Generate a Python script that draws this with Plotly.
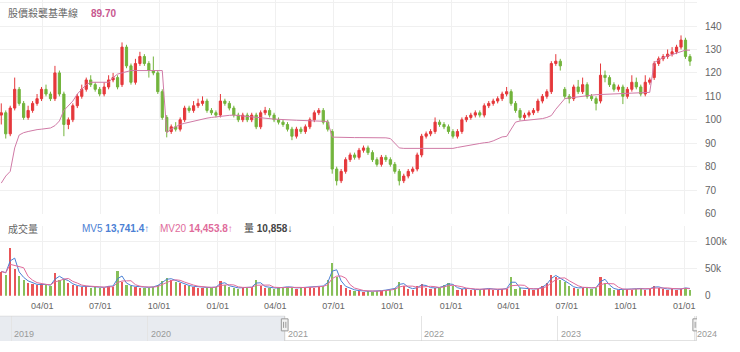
import plotly.graph_objects as go
import pandas as pd

W, H = 740, 352

# ---------------- data (weekly) ----------------
week_start = "2021-01-27"
n_weeks = 155

close_ = [103, 94, 105, 113, 107, 101, 104, 107, 109, 113,
          111, 109, 120, 111, 98, 100, 106, 110, 113, 117,
          115, 113, 111, 114, 117, 118, 114, 131, 123, 116,
          124, 127, 124, 121, 120, 112, 101, 95, 97, 96,
          100, 105, 104, 106, 107, 108, 104, 103, 102, 108,
          107, 105, 102, 100, 102, 100, 102, 97, 103, 104,
          102, 100, 99, 98, 96, 93, 96, 95, 97, 100,
          103, 104, 99, 96, 79, 74, 78, 83, 85, 84,
          87, 88, 86, 83, 81, 84, 83, 81, 78, 74,
          76, 78, 79, 85, 93, 94, 95, 99, 98, 97,
          95, 93, 95, 100, 101, 102, 103, 102, 106, 107,
          108, 109, 111, 112, 107, 104, 101, 102, 103, 104,
          108, 110, 112, 124, 125, 123, 110, 109, 114, 112,
          115, 110, 109, 107, 119, 118, 115, 113, 114, 110,
          113, 116, 114, 111, 116, 117, 124, 126, 127, 128,
          129, 131, 134, 127, 125]

open_ = [102, 103, 94, 105, 113, 107, 101, 104, 107, 109,
         113, 111, 109, 120, 111, 98, 100, 106, 110, 113,
         117, 115, 113, 111, 114, 117, 118, 115, 131, 123,
         116, 124, 127, 124, 121, 120, 112, 101, 95, 97,
         96, 100, 105, 104, 106, 107, 108, 104, 103, 102,
         108, 107, 105, 102, 100, 102, 100, 102, 97, 103,
         104, 102, 100, 99, 98, 96, 93, 96, 95, 97,
         100, 103, 104, 99, 95, 79, 74, 78, 83, 85,
         84, 87, 88, 86, 83, 81, 84, 83, 81, 78,
         74, 76, 78, 79, 85, 93, 94, 95, 99, 98,
         97, 95, 93, 95, 100, 101, 102, 103, 102, 106,
         107, 108, 109, 111, 112, 107, 104, 101, 102, 103,
         104, 108, 110, 112, 124, 125, 113, 110, 109, 114,
         112, 115, 110, 109, 108, 119, 118, 115, 113, 114,
         110, 113, 116, 114, 111, 116, 118, 124, 126, 127,
         128, 129, 131, 134, 127]

high_ = [107, 104, 106, 118, 114, 108, 106, 108, 111, 114,
         115, 112, 123, 121, 112, 101, 107, 111, 115, 118,
         119, 116, 114, 116, 119, 120, 119, 133, 132, 124,
         126, 129, 128, 125, 127, 121, 113, 102, 98, 99,
         101, 106, 106, 108, 109, 110, 109, 105, 104, 111,
         109, 108, 106, 103, 103, 103, 103, 103, 104, 105.5,
         105, 103, 101, 100, 99, 97, 97, 97, 98, 101,
         104, 105, 105, 100, 96, 80, 79, 84, 86, 86,
         88, 89, 89, 87, 84, 85, 85, 84, 82, 79,
         77, 79, 80, 86, 94, 95, 96, 101, 100, 99,
         98, 96, 96, 101, 102, 103, 104, 104, 107, 108,
         109, 110, 112, 114, 113, 108, 105, 103, 104, 105,
         109, 111, 113, 125, 128, 126, 114, 111, 115, 117,
         118, 116, 111, 110, 124, 121, 119, 116, 115, 115,
         114, 119, 118, 115, 119, 118, 125, 127, 128, 130,
         131, 132, 136, 135, 128]

low_ = [98, 92, 93, 104, 106, 100, 100, 103, 106, 108,
        110, 108, 108, 110, 93, 96, 99, 105, 109, 112,
        114, 112, 110, 110, 113, 116, 113, 114, 122, 115,
        115, 123, 123, 118, 119, 111, 100, 92.5, 94, 95,
        95, 99, 103, 103, 105, 106, 103, 102, 101, 101,
        106, 104, 101, 99, 99, 99, 99, 96, 96, 102,
        101, 99, 98, 97, 95, 91.3, 92, 94, 94, 96,
        99, 102, 98, 95, 77, 72, 73, 77, 82, 83,
        83, 86, 85, 82, 80, 80, 82, 80, 77, 72,
        73, 75, 77, 78, 84, 92, 93, 94, 97, 96,
        94, 92, 92, 94, 99, 100, 101, 101, 101, 105,
        106, 107, 108, 110, 106, 103, 99.7, 100, 101, 102,
        103, 107, 109, 111, 123, 121, 109, 107, 108, 111,
        111, 109, 108, 104, 107, 116, 114, 112, 112, 106.7,
        109, 112, 113, 110, 110, 115, 117, 123, 125, 126,
        127, 128, 130, 126, 123]

baseline = [73, 76, 78, 88, 93.5, 94.5, 95, 95.5, 95.8, 96,
            96.3, 96.5, 97.5, 99.5, 104, 106, 108, 111, 113, 115,
            116, 116, 116, 116, 116, 118, 119.5, 120, 120.5, 121,
            121, 121, 121, 121, 121, 121, 121, 94.5, 96, 97,
            98, 98.5, 99, 99.5, 100, 100.3, 100.7, 101, 101.3, 101.5,
            101.7, 101.9, 102, 101.8, 101.5, 101.3, 101, 100.8, 100.6, 100.5,
            100.4, 100.3, 100.2, 100.2, 100, 99.9, 99.8, 99.7, 99.6, 99.5,
            99.4, 99.3, 99.3, 99.3, 92.6, 92.5, 92.5, 92.5, 92.5, 92.4,
            92.4, 92.4, 92.4, 92.3, 92.3, 92.3, 92.3, 92, 90, 88,
            87.8, 87.8, 87.8, 87.8, 87.8, 87.8, 87.8, 87.8, 87.8, 87.8,
            87.8, 87.8, 88.2, 88.6, 89, 89.3, 89.6, 89.9, 90.2, 90.4,
            91, 92, 92.7, 92.9, 96, 99, 99.5, 99.7, 99.8, 99.9,
            100, 100.5, 101, 101.8, 104.5, 107, 109, 109.3, 109.6, 109.9,
            110.1, 110.3, 110.5, 110.7, 110.8, 110.9, 111, 111.1, 111.2, 111.3,
            111.4, 111.5, 111.6, 111.7, 111.7, 111.7, 124.4, 125.5, 126.5, 127.2,
            127.8, 128.5, 129, 129.7, 129.7]

volume_k = [45, 40, 89, 50, 38, 30, 25, 22, 20, 22,
            20, 19, 42, 30, 32, 24, 20, 18, 17, 18,
            16, 17, 15, 16, 19, 17, 46, 27, 20, 18,
            17, 16, 15, 16, 17, 21, 28, 33, 30, 27,
            24, 20, 18, 17, 16, 15, 16, 15, 17, 28,
            20, 17, 15, 14, 16, 15, 17, 30, 18, 16,
            15, 14, 15, 16, 17, 15, 14, 16, 15, 17,
            16, 17, 19, 30, 61, 35, 20, 15, 12, 10,
            9, 8, 9, 8, 9, 10, 11, 12, 15, 27,
            18, 14, 12, 18, 22, 16, 14, 15, 16, 20,
            24, 18, 12, 13, 14, 12, 11, 12, 14, 13,
            12, 11, 13, 14, 36, 14, 15, 12, 13, 12,
            14, 18, 25, 39, 36, 30, 27, 18, 15, 14,
            16, 15, 14, 16, 36, 25, 15, 12, 11, 12,
            13, 12, 14, 13, 12, 14, 18, 15, 13, 12,
            14, 12, 13, 16, 11]

x_tick_dates = ["2021-04-01", "2021-07-01", "2021-10-01", "2022-01-01",
                "2022-04-01", "2022-07-01", "2022-10-01", "2023-01-01",
                "2023-04-01", "2023-07-01", "2023-10-01", "2024-01-01"]
x_tick_text = ["04/01", "07/01", "10/01", "01/01", "04/01", "07/01",
               "10/01", "01/01", "04/01", "07/01", "10/01", "01/01"]
price_ticks = [60, 70, 80, 90, 100, 110, 120, 130, 140, 150]
vol_ticks = [0, 50000, 100000]
vol_tick_text = ["0", "50k", "100k"]
nav_years = ["2019", "2020", "2021", "2022", "2023", "2024"]
nav_year_dates = ["2019-01-01", "2020-01-01", "2021-01-01", "2022-01-01",
                  "2023-01-01", "2024-01-01"]

title_main = "股價殺襲基準線"
title_main_value = "89.70"
title_vol = "成交量"
mv5_label, mv5_value = "MV5", "13,741.4"
mv20_label, mv20_value = "MV20", "14,453.8"
vol_label, vol_value = "量", "10,858"

view_range = ["2021-01-25", "2024-01-21"]
nav_range = ["2018-12-02", "2024-01-08"]
sel_start, sel_end = "2021-01-01", "2024-01-06"

# ---------------- styling ----------------
RED = "#e5383b"
GREEN = "#72b43c"
PINK = "#d07aa6"
BLUE = "#4b80d4"
MV20C = "#e06b9b"
GRID = "#f0f0f0"
TXT = "#666666"
FONT = "Liberation Sans, Noto Sans CJK TC, sans-serif"

dates = pd.date_range(week_start, periods=n_weeks, freq="7D")
volume = [v * 1000 for v in volume_k]
vol_s = pd.Series(volume)
mv5 = vol_s.rolling(2, min_periods=1).mean()
mv20 = vol_s.rolling(4, min_periods=1).mean()
bar_colors = [RED if c >= o else GREEN for o, c in zip(open_, close_)]

KY = 1.02  # vertical calibration


def py(px):  # pixel from top -> paper
    return 1 - px * KY / H


R = 697 / W

fig = go.Figure()
fig.add_trace(go.Candlestick(
    x=dates, open=open_, high=high_, low=low_, close=close_,
    xaxis="x", yaxis="y", whiskerwidth=0,
    increasing=dict(line=dict(color=RED, width=1), fillcolor=RED),
    decreasing=dict(line=dict(color=GREEN, width=1), fillcolor=GREEN),
    showlegend=False, hoverinfo="skip"))
fig.add_trace(go.Scatter(x=dates, y=baseline, mode="lines",
                         line=dict(color=PINK, width=1), xaxis="x", yaxis="y",
                         showlegend=False, hoverinfo="skip"))
fig.add_trace(go.Bar(x=dates, y=volume, marker=dict(color=bar_colors, line=dict(width=0)),
                     opacity=0.85, width=3.5 * 86400000, xaxis="x2", yaxis="y2",
                     showlegend=False, hoverinfo="skip"))
fig.add_trace(go.Scatter(x=dates, y=mv5, mode="lines", line=dict(color=BLUE, width=1),
                         xaxis="x2", yaxis="y2", showlegend=False, hoverinfo="skip"))
fig.add_trace(go.Scatter(x=dates, y=mv20, mode="lines", line=dict(color=MV20C, width=1),
                         xaxis="x2", yaxis="y2", showlegend=False, hoverinfo="skip"))
fig.add_trace(go.Scatter(x=nav_year_dates, y=[0.5] * len(nav_year_dates), mode="none",
                         xaxis="x3", yaxis="y3", showlegend=False, hoverinfo="skip"))

axis_common = dict(showline=False, zeroline=False, ticks="")
fig.update_layout(
    width=W, height=H, margin=dict(l=0, r=0, t=0, b=0),
    paper_bgcolor="white", plot_bgcolor="white",
    font=dict(family=FONT, size=10, color=TXT),
    bargap=0,
    xaxis=dict(domain=[0, R], type="date", range=view_range, anchor="y",
               rangeslider=dict(visible=False), showticklabels=False,
               tickvals=x_tick_dates, showgrid=True, gridcolor=GRID, **axis_common),
    xaxis2=dict(domain=[0, R], type="date", range=view_range, anchor="y2", matches="x",
                tickvals=x_tick_dates, ticktext=x_tick_text, ticklabelstandoff=3,
                tickfont=dict(size=9, color=TXT), showgrid=True, gridcolor=GRID,
                **axis_common),
    yaxis=dict(domain=[py(213), 1], range=[60, 151.1], side="right", anchor="x",
               tickvals=price_ticks, tickfont=dict(size=10, color=TXT),
               showgrid=True, gridcolor=GRID, ticklabelstandoff=7, **axis_common),
    yaxis2=dict(domain=[py(295), py(225)], range=[0, 129600], side="right", anchor="x2",
                tickvals=vol_ticks, ticktext=vol_tick_text,
                tickfont=dict(size=10, color=TXT),
                showgrid=True, gridcolor=GRID, ticklabelstandoff=7, **axis_common),
    xaxis3=dict(domain=[0, R], type="date", range=nav_range, anchor="y3",
                tickvals=nav_year_dates, showticklabels=False, showgrid=True,
                gridcolor="#e4e4e4", **axis_common),
    yaxis3=dict(domain=[py(340), py(315)], range=[0, 1], anchor="x3",
                showticklabels=False, showgrid=False, **axis_common),
)

shapes = []
shapes.append(dict(type="rect", xref="x3", yref="y3", x0=nav_range[0], x1=sel_start,
                   y0=0, y1=1, fillcolor="#e8ebf0", line=dict(width=0), layer="below"))
for (xa, ya, xb, yb) in [(nav_range[0], 1, sel_start, 1), (sel_start, 1, sel_start, 0),
                         (sel_start, 0, sel_end, 0), (sel_end, 0, sel_end, 1)]:
    shapes.append(dict(type="line", xref="x3", yref="y3", x0=xa, y0=ya, x1=xb, y1=yb,
                       line=dict(color="#cfcfcf", width=1)))
for hd in [sel_start, sel_end]:
    t = pd.Timestamp(hd)
    shapes.append(dict(type="rect", xref="x3", yref="y3",
                       x0=t - pd.Timedelta(days=9), x1=t + pd.Timedelta(days=9),
                       y0=0.4, y1=0.88, fillcolor="#f2f2f2",
                       line=dict(color="#999999", width=1)))
    for dd in [-3, 3]:
        shapes.append(dict(type="line", xref="x3", yref="y3",
                           x0=t + pd.Timedelta(days=dd), x1=t + pd.Timedelta(days=dd),
                           y0=0.52, y1=0.76, line=dict(color="#999999", width=1)))
fig.update_layout(shapes=shapes)

ann = []
ann.append(dict(text=title_main, x=6 / W, y=py(13), xref="paper", yref="paper",
                xanchor="left", yanchor="middle", showarrow=False,
                font=dict(size=10, color=TXT)))
ann.append(dict(text="<b>" + title_main_value + "</b>", x=89 / W, y=py(13), xref="paper",
                yref="paper", xanchor="left", yanchor="middle", showarrow=False,
                font=dict(size=10, color="#c8578f")))
ann.append(dict(text=title_vol, x=6 / W, y=py(228), xref="paper", yref="paper",
                xanchor="left", yanchor="middle", showarrow=False,
                font=dict(size=10, color=TXT)))
ann.append(dict(text=mv5_label + " <b>" + mv5_value + "</b>↑", x=80 / W, y=py(228),
                xref="paper", yref="paper", xanchor="left", yanchor="middle",
                showarrow=False, font=dict(size=10, color=BLUE)))
ann.append(dict(text=mv20_label + " <b>" + mv20_value + "</b>↑", x=158 / W, y=py(228),
                xref="paper", yref="paper", xanchor="left", yanchor="middle",
                showarrow=False, font=dict(size=10, color=MV20C)))
ann.append(dict(text=vol_label + " <b>" + vol_value + "</b>↓", x=242 / W, y=py(228),
                xref="paper", yref="paper", xanchor="left", yanchor="middle",
                showarrow=False, font=dict(size=10, color="#444444")))
for yr, d in zip(nav_years, nav_year_dates):
    ann.append(dict(text=yr, x=d, y=py(333), xref="x3", yref="paper", xanchor="left",
                    yanchor="middle", xshift=1, showarrow=False,
                    font=dict(size=9, color="#999999")))
fig.update_layout(annotations=ann)

fig.write_html("out.html")
